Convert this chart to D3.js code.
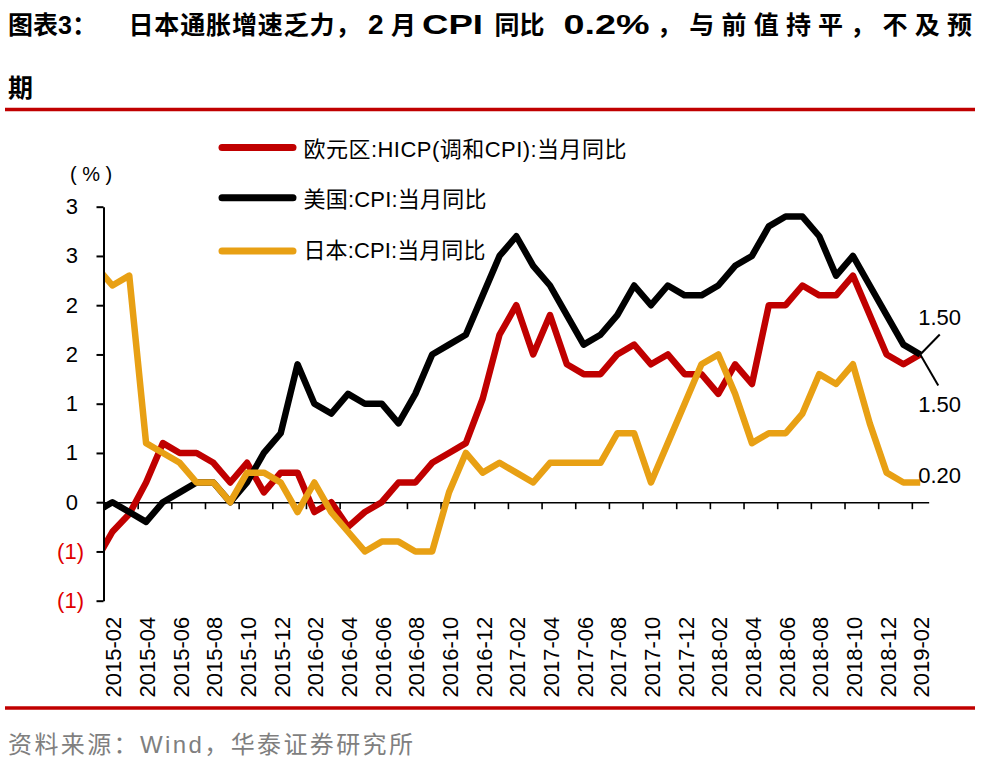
<!DOCTYPE html>
<html><head><meta charset="utf-8">
<script src="https://cdn.jsdelivr.net/npm/d3@7"></script>
<style>
html,body{margin:0;padding:0;background:#fff;}
svg{display:block;}
</style></head><body>
<svg id="chart" width="984" height="766"></svg>
<script>
// ---------------- data ----------------
const months = [
  "2015-01","2015-02","2015-03","2015-04","2015-05","2015-06","2015-07","2015-08","2015-09","2015-10","2015-11","2015-12",
  "2016-01","2016-02","2016-03","2016-04","2016-05","2016-06","2016-07","2016-08","2016-09","2016-10","2016-11","2016-12",
  "2017-01","2017-02","2017-03","2017-04","2017-05","2017-06","2017-07","2017-08","2017-09","2017-10","2017-11","2017-12",
  "2018-01","2018-02","2018-03","2018-04","2018-05","2018-06","2018-07","2018-08","2018-09","2018-10","2018-11","2018-12",
  "2019-01","2019-02"
];
const euroHicp = [
  -0.6,-0.3,-0.12,0.2,0.6,0.5,0.5,0.4,0.2,0.4,0.1,0.3,
  0.3,-0.1,0.0,-0.25,-0.1,0.0,0.2,0.2,0.4,0.5,0.6,1.05,
  1.7,2.0,1.5,1.9,1.4,1.3,1.3,1.5,1.6,1.4,1.5,1.3,
  1.3,1.1,1.4,1.2,2.0,2.0,2.2,2.1,2.1,2.3,1.9,1.5,
  1.4,1.5
];
const usCpi = [
  -0.1,0.0,-0.1,-0.2,0.0,0.1,0.2,0.2,0.0,0.2,0.5,0.7,
  1.4,1.0,0.9,1.1,1.0,1.0,0.8,1.1,1.5,1.6,1.7,2.1,
  2.5,2.7,2.4,2.2,1.9,1.6,1.7,1.9,2.2,2.0,2.2,2.1,
  2.1,2.2,2.4,2.5,2.8,2.9,2.9,2.7,2.3,2.5,2.2,1.9,
  1.6,1.5
];
const japanCpi = [
  2.4,2.2,2.3,0.6,0.5,0.4,0.2,0.2,0.0,0.3,0.3,0.2,
  -0.1,0.2,-0.1,-0.3,-0.5,-0.4,-0.4,-0.5,-0.5,0.1,0.5,0.3,
  0.4,0.3,0.2,0.4,0.4,0.4,0.4,0.7,0.7,0.2,0.6,1.0,
  1.4,1.5,1.1,0.6,0.7,0.7,0.9,1.3,1.2,1.4,0.8,0.3,
  0.2,0.2
];
const xTickLabels = [
  "2015-02","2015-04","2015-06","2015-08","2015-10","2015-12",
  "2016-02","2016-04","2016-06","2016-08","2016-10","2016-12",
  "2017-02","2017-04","2017-06","2017-08","2017-10","2017-12",
  "2018-02","2018-04","2018-06","2018-08","2018-10","2018-12",
  "2019-02"
];
const yTickValues = [-1,-0.5,0,0.5,1,1.5,2,2.5,3];
const yTickLabels = ["(1)","(1)","0","1","1","2","2","3","3"];
const seriesNames = ["欧元区:HICP(调和CPI):当月同比","美国:CPI:当月同比","日本:CPI:当月同比"];
const seriesColors = ["#c00000","#000000","#e8a014"];
const titleSegments = ["图表3：","日本通胀增速乏力，","2","月","CPI","同比","0.2%","，与前值持平，不及预"];
const titleLine2 = "期";
const unitLabel = "(%)";
const sourceText = "资料来源：Wind，华泰证券研究所";

// ---------------- drawing ----------------
const LATIN = "'Liberation Sans', Arial, 'Noto Sans CJK SC', sans-serif";
const svg = d3.select("#chart");

// title (segment placement)
const segX = [8, 128.5, 368, 391, 422, 494.5, 563.5, 657];
const segLen = [null, 232, null, null, 61, null, 86, 315];
const segAdj = [null, "spacing", null, null, "spacingAndGlyphs", null, "spacingAndGlyphs", "spacing"];
const segSize = [25, 25, 28, 25, 28, 25, 28, 25];
titleSegments.forEach((t, i) => {
  const el = svg.append("text").attr("x", segX[i]).attr("y", 34)
    .attr("font-family", LATIN).attr("font-size", segSize[i]).attr("font-weight", "bold")
    .text(t);
  if (segLen[i]) el.attr("textLength", segLen[i]).attr("lengthAdjust", segAdj[i]);
});
svg.append("text").attr("x", 8).attr("y", 96.5)
  .attr("font-family", LATIN).attr("font-size", 25).attr("font-weight", "bold")
  .text(titleLine2);
svg.append("line").attr("x1", 5).attr("x2", 975).attr("y1", 109.5).attr("y2", 109.5)
  .attr("stroke", "#c00000").attr("stroke-width", 3.5);

// scales
const x = d3.scaleLinear().domain([0.5, months.length - 0.5]).range([104, 104 + 16.83 * (months.length - 1)]);
const y = d3.scaleLinear().domain([-1, 3]).range([600.7, 206.7]);

// clip
svg.append("defs").append("clipPath").attr("id", "plotclip")
  .append("rect").attr("x", x(0.5)).attr("y", 150).attr("width", 840).attr("height", 500);

// x axis (ticks at category boundaries)
const boundaries = xTickLabels.map(l => months.indexOf(l) - 0.5);
const gx = svg.append("g").attr("transform", `translate(0,${y(0)})`)
  .call(d3.axisBottom(x).tickValues(boundaries).tickSize(7).tickSizeOuter(0).tickFormat(""));
gx.select(".domain").attr("stroke", "#000").attr("stroke-width", 1.6);
gx.selectAll(".tick line").attr("stroke", "#000").attr("stroke-width", 1.6);

// x labels (rotated) below plot
const labelIdx = xTickLabels.map(l => months.indexOf(l));
const gxl = svg.append("g").attr("transform", `translate(0,${y(0)})`)
  .call(d3.axisBottom(x).tickValues(labelIdx).tickSize(0)
    .tickFormat((d, i) => xTickLabels[i]));
gxl.select(".domain").remove();
gxl.selectAll(".tick text")
  .attr("font-family", LATIN).attr("font-size", 22).attr("fill", "#000")
  .attr("text-anchor", "end").attr("dy", 0).attr("y", 0)
  .attr("transform", `translate(8.5,${y(-1) + 16 - y(0)}) rotate(-90)`);

// series lines
const series = [euroHicp, usCpi, japanCpi];
const lineGen = d3.line().x((d, i) => x(i)).y(d => y(d));
const gl = svg.append("g").attr("clip-path", "url(#plotclip)");
series.forEach((s, k) => {
  gl.append("path").datum(s).attr("d", lineGen)
    .attr("fill", "none").attr("stroke", seriesColors[k])
    .attr("stroke-width", 6.5).attr("stroke-linejoin", "round");
});

// y axis
const gy = svg.append("g").attr("transform", `translate(103.5,0)`)
  .call(d3.axisLeft(y).tickValues(yTickValues).tickSize(7).tickSizeOuter(0)
    .tickFormat((d, i) => yTickLabels[i]));
gy.select(".domain").attr("stroke", "#000").attr("stroke-width", 2);
gy.selectAll(".tick line").attr("stroke", "#000").attr("stroke-width", 2);
gy.selectAll(".tick text")
  .attr("font-family", LATIN).attr("font-size", 22)
  .attr("x", d => d < 0 ? -19.5 : -25.5)
  .attr("fill", d => d < 0 ? "#e00000" : "#000");

// unit label
svg.append("text").attr("x", 70).attr("y", 181)
  .attr("font-family", LATIN).attr("font-size", 20).attr("letter-spacing", 5.5)
  .text(unitLabel);

// legend
const legendLineY = [147.6, 197.8, 250.9];
const legendTextY = [156.7, 206.7, 258.3];
const legendWidths = [323, 183, 182];
seriesNames.forEach((n, k) => {
  svg.append("line").attr("x1", 222).attr("x2", 293)
    .attr("y1", legendLineY[k]).attr("y2", legendLineY[k])
    .attr("stroke", seriesColors[k]).attr("stroke-width", 7).attr("stroke-linecap", "round");
  svg.append("text").attr("x", 303.5).attr("y", legendTextY[k])
    .attr("font-family", LATIN).attr("font-size", 22)
    .attr("textLength", legendWidths[k]).attr("lengthAdjust", "spacing")
    .text(n);
});

// end-point data labels
const last = months.length - 1;
const fmt = d3.format(".2f");
const px = x(last), pyE = y(euroHicp[last]), pyU = y(usCpi[last]), pyJ = y(japanCpi[last]);
svg.append("line").attr("x1", px).attr("y1", pyE).attr("x2", px + 19.5).attr("y2", pyE - 20)
  .attr("stroke", "#000").attr("stroke-width", 2);
svg.append("line").attr("x1", px).attr("y1", pyU).attr("x2", px + 18).attr("y2", pyU + 31)
  .attr("stroke", "#000").attr("stroke-width", 2);
svg.append("text").attr("x", px - 2).attr("y", pyE - 29)
  .attr("font-family", LATIN).attr("font-size", 22).text(fmt(euroHicp[last]));
svg.append("text").attr("x", px - 2).attr("y", pyU + 58)
  .attr("font-family", LATIN).attr("font-size", 22).text(fmt(usCpi[last]));
svg.append("text").attr("x", px - 2).attr("y", pyJ)
  .attr("font-family", LATIN).attr("font-size", 22).text(fmt(japanCpi[last]));

// bottom rule and source
svg.append("line").attr("x1", 5).attr("x2", 975).attr("y1", 708).attr("y2", 708)
  .attr("stroke", "#c00000").attr("stroke-width", 3.5);
svg.append("text").attr("x", 8).attr("y", 753)
  .attr("font-family", LATIN).attr("font-size", 24).attr("fill", "#7f7f7f")
  .attr("textLength", 405).attr("lengthAdjust", "spacing")
  .text(sourceText);
</script>
</body></html>
